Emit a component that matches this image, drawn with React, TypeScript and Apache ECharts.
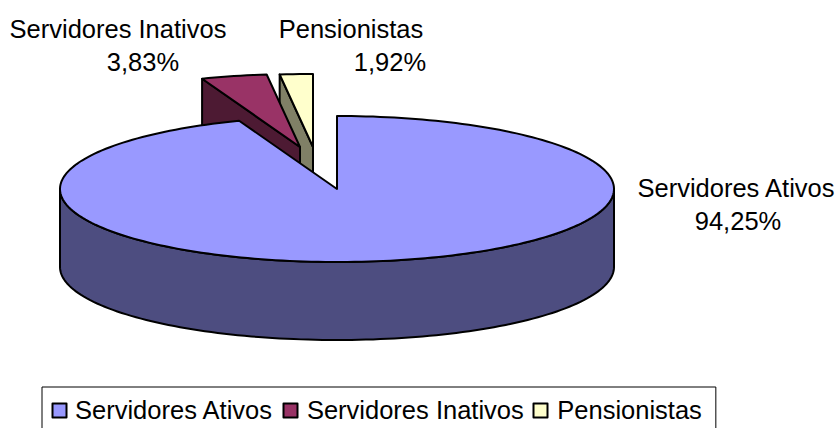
import React, { useEffect, useRef } from "react";
import * as echarts from "echarts";

const categories = ["Servidores Ativos", "Servidores Inativos", "Pensionistas"];
const percentages = [94.25, 3.83, 1.92];

const topColors = ["#9999ff", "#993366", "#ffffcc"];
const wallColors = ["#4d4d80", "#4d1a33", "#808066"];

// Pie geometry (projected ellipse, extrusion, explode offsets)
const CX = 337;
const CY = 189;
const RX = 277;
const RY = 73;
const DEPTH = 78;
const explodeX = [0, -37, -24];
const explodeY = [0, -42, -42];
const seriesZ = [4, 3, 2];

// Label placement: [x, y, align] for name line and value line
const nameLabelPos: [number, number, string][] = [
  [736, 188, "center"],
  [118, 29, "center"],
  [351, 29, "center"],
];
const valueLabelPos: [number, number, string][] = [
  [738, 221, "center"],
  [143, 62, "center"],
  [390, 62, "center"],
];

// Outlined legend swatches: left edge of each
const swatchX = [52.5, 283.5, 533.5];
const swatchY = 403.5;
const swatchSize = 14;

const FONT = '"Liberation Sans", Arial, sans-serif';
const FONT_SIZE = 25.5;

function fmt(v: number) {
  return v.toFixed(2).replace(".", ",") + "%";
}

function arcPts(cx: number, cy: number, a0: number, a1: number) {
  const pts: number[][] = [];
  const n = Math.max(2, Math.ceil(Math.abs(a1 - a0) / 1.5));
  for (let i = 0; i <= n; i++) {
    const a = ((a0 + ((a1 - a0) * i) / n) * Math.PI) / 180;
    pts.push([cx + RX * Math.sin(a), cy - RY * Math.cos(a)]);
  }
  return pts;
}

function poly(points: number[][], fill: string) {
  return {
    type: "polygon",
    shape: { points },
    style: { fill, stroke: "#000", lineWidth: 2, lineJoin: "round" },
    silent: true,
  };
}

function makeRenderItem(idx: number) {
  return (_params: any, api: any) => {
    const value = api.value(0);
    const total = percentages.reduce((s, v) => s + v, 0);
    const before = percentages.slice(0, idx).reduce((s, v) => s + v, 0);
    const a0 = (before / total) * 360;
    const a1 = a0 + (value / total) * 360;
    const cx = CX + explodeX[idx];
    const cy = CY + explodeY[idx];
    const sin = (a: number) => Math.sin((a * Math.PI) / 180);
    const cos = (a: number) => Math.cos((a * Math.PI) / 180);
    const children: any[] = [];

    const radial = (a: number) => {
      const ox = cx + RX * sin(a);
      const oy = cy - RY * cos(a);
      return poly(
        [
          [cx, cy],
          [ox, oy],
          [ox, oy + DEPTH],
          [cx, cy + DEPTH],
        ],
        wallColors[idx]
      );
    };
    if (sin(a1) > 1e-6) children.push(radial(a1));
    if (sin(a0) < -1e-6) children.push(radial(a0));

    const w0 = Math.max(a0, 90);
    const w1 = Math.min(a1, 270);
    if (w1 > w0) {
      const upper = arcPts(cx, cy, w0, w1);
      const lower = arcPts(cx, cy + DEPTH, w1, w0);
      children.push(poly(upper.concat(lower), wallColors[idx]));
    }

    children.push(poly([[cx, cy], ...arcPts(cx, cy, a0, a1)], topColors[idx]));

    const sx = swatchX[idx];
    children.push(
      poly(
        [
          [sx, swatchY],
          [sx + swatchSize, swatchY],
          [sx + swatchSize, swatchY + swatchSize],
          [sx, swatchY + swatchSize],
        ],
        topColors[idx]
      )
    );

    const text = (s: string, p: [number, number, string]) => ({
      type: "text",
      silent: true,
      style: {
        text: s,
        x: p[0],
        y: p[1],
        align: p[2],
        verticalAlign: "middle",
        fill: "#000",
        font: `${FONT_SIZE}px ${FONT}`,
      },
    });
    children.push(text(categories[idx], nameLabelPos[idx]));
    children.push(text(fmt(value), valueLabelPos[idx]));

    return { type: "group", children };
  };
}

export default function App() {
  const ref = useRef<HTMLDivElement>(null);
  useEffect(() => {
    document.body.style.margin = "0";
    const chart = echarts.init(ref.current!, null, { renderer: "svg" });
    chart.setOption({
      animation: false,
      backgroundColor: "#fff",
      legend: {
        z: 1,
        left: 42,
        top: 387,
        orient: "horizontal",
        selectedMode: false,
        itemWidth: 14,
        itemHeight: 14,
        itemGap: 8.5,
        padding: [10, 14, 10, 8],
        borderColor: "#000",
        borderWidth: 1,
        icon: "rect",
        itemStyle: { opacity: 0 },
        textStyle: { color: "#000", fontFamily: FONT, fontSize: FONT_SIZE, padding: [0, 0, 0, 6] },
        data: categories,
      },
      series: categories.map((name, i) => ({
        type: "custom",
        name,
        coordinateSystem: "none",
        z: seriesZ[i],
        silent: true,
        itemStyle: { color: topColors[i] },
        renderItem: makeRenderItem(i),
        data: [[percentages[i]]],
      })),
    });
    return () => chart.dispose();
  }, []);
  return <div ref={ref} style={{ width: 837, height: 428 }} />;
}
